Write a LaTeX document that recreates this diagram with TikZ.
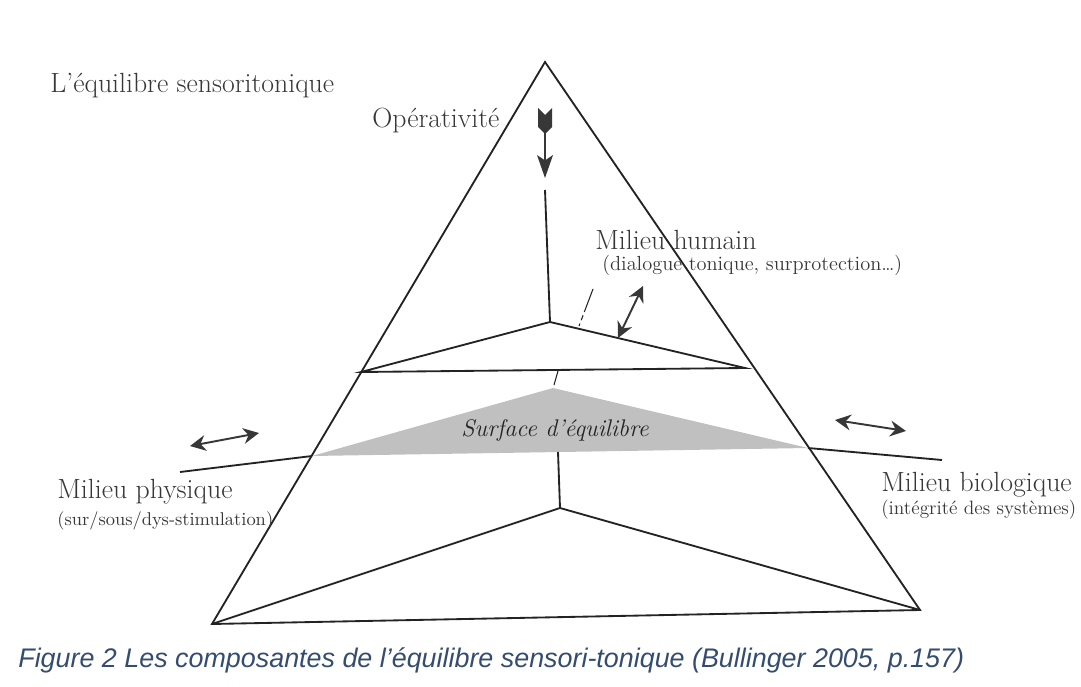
\documentclass[tikz,border=0pt]{standalone}
\usepackage{fontspec}
\usetikzlibrary{arrows.meta}
\newfontfamily\captionsans{Liberation Sans}
\definecolor{InkGray}{RGB}{35,35,35}
\definecolor{TextGray}{RGB}{55,55,55}
\definecolor{SurfGray}{RGB}{192,192,192}
\definecolor{CaptionBlue}{RGB}{52,76,112}
\tikzset
{
  EdgeStyle/.style =
  {
    draw = InkGray,
    line width = 1.05pt,
  },
  BigLabelStyle/.style =
  {
    anchor = west,
    inner sep = 0pt,
    text = TextGray,
    font = \fontsize{15.8}{18}\selectfont,
  },
  SmallLabelStyle/.style =
  {
    anchor = west,
    inner sep = 0pt,
    text = TextGray,
    font = \fontsize{11}{13}\selectfont,
  },
  SwapArrowStyle/.style =
  {
    draw = TextGray,
    line width = 1.1pt,
    {Stealth[length=9pt,width=9pt,inset=3pt]}-{Stealth[length=9pt,width=9pt,inset=3pt]},
  }
}

\begin{document}
\begin{tikzpicture}[x=0.02cm, y=-0.02cm]
  \useasboundingbox (0,0) rectangle (1081,686);

  % pyramid corners
  \coordinate (apex) at (545,62);
  \coordinate (baseL) at (212,624);
  \coordinate (baseR) at (920,610);

  % upper triangle (milieu humain)
  \coordinate (hubUp) at (550,322);
  \coordinate (upperL) at (361,372);
  \coordinate (upperR) at (745,368);
  \coordinate (axisTop) at (545,190);

  % surface d'equilibre
  \coordinate (surfTop) at (553,388);
  \coordinate (surfL) at (312,456);
  \coordinate (surfR) at (808,448);
  \coordinate (physEnd) at (180,472);
  \coordinate (bioEnd) at (942,460);

  % lower triangle
  \coordinate (axisLow) at (558,452);
  \coordinate (hubLow) at (560,508);

  \fill[SurfGray] (surfL) -- (surfTop) -- (surfR) -- cycle;

  \draw[EdgeStyle] (apex) -- (baseL) -- (baseR) -- cycle;
  \draw[EdgeStyle] (upperL) -- (hubUp) -- (upperR) -- cycle;
  \draw[EdgeStyle] (axisTop) -- (hubUp);
  \draw[EdgeStyle] (baseL) -- (hubLow) -- (baseR);
  \draw[EdgeStyle] (axisLow) -- (hubLow);
  \draw[EdgeStyle] (physEnd) -- (surfL);
  \draw[EdgeStyle] (surfR) -- (bioEnd);

  % small ticks
  \coordinate (tickA) at (558,371);
  \coordinate (tickB) at (554,385);
  \draw[EdgeStyle, line width=0.6pt] (tickA) -- (tickB);
  \coordinate (dashA) at (593,289);
  \coordinate (dashB) at (579,326);
  \draw[EdgeStyle, line width=0.6pt, dash pattern=on 14pt off 2pt on 3pt off 2pt] (dashA) -- (dashB);

  % operativite arrow
  \coordinate (opTail) at (545,128);
  \coordinate (opHead) at (545,178);
  \fill[TextGray] (538,108) -- (545,115) -- (552,108) -- (552,127) -- (545,134) -- (538,127) -- cycle;
  \draw[draw=TextGray, line width=1pt, -{Stealth[length=13pt,width=9pt,inset=3pt]}] (opTail) -- (opHead);

  % exchange arrows
  \coordinate (humA) at (643,286);
  \coordinate (humB) at (618,338);
  \draw[SwapArrowStyle] (humB) -- (humA);
  \coordinate (physA) at (190,446);
  \coordinate (physB) at (259,433);
  \draw[SwapArrowStyle] (physA) -- (physB);
  \coordinate (bioA) at (835,420);
  \coordinate (bioB) at (906,431);
  \draw[SwapArrowStyle] (bioA) -- (bioB);

  % labels
  \node[BigLabelStyle] (title) at (50,86) {L'équilibre sensoritonique};
  \node[BigLabelStyle] (operativite) at (372,121) {Opérativité};
  \node[BigLabelStyle] (humain) at (595,240) {Milieu humain};
  \node[SmallLabelStyle, font=\fontsize{11.6}{13}\selectfont] (humainSub) at (602,265) {(dialogue tonique, surprotection\dots)};
  \node[BigLabelStyle] (physique) at (57,492) {Milieu physique};
  \node[SmallLabelStyle, font=\fontsize{10.5}{13}\selectfont] (physiqueSub) at (57,521) {(sur/sous/dys-stimulation)};
  \node[BigLabelStyle] (biologique) at (881,485) {Milieu biologique};
  \node[SmallLabelStyle] (biologiqueSub) at (881,510) {(intégrité des systèmes)};
  \node[BigLabelStyle, anchor=center, font=\fontsize{13.7}{16}\selectfont\itshape, text=InkGray] (surface) at (555,430) {Surface d'équilibre};

  % caption
  \node[anchor=west, inner sep=0pt, text=CaptionBlue, font=\captionsans\itshape\fontsize{15.3}{17}\selectfont] (caption) at (18,660)
    {Figure 2 Les composantes de l’équilibre sensori-tonique (Bullinger 2005, p.157)};
\end{tikzpicture}
\end{document}
